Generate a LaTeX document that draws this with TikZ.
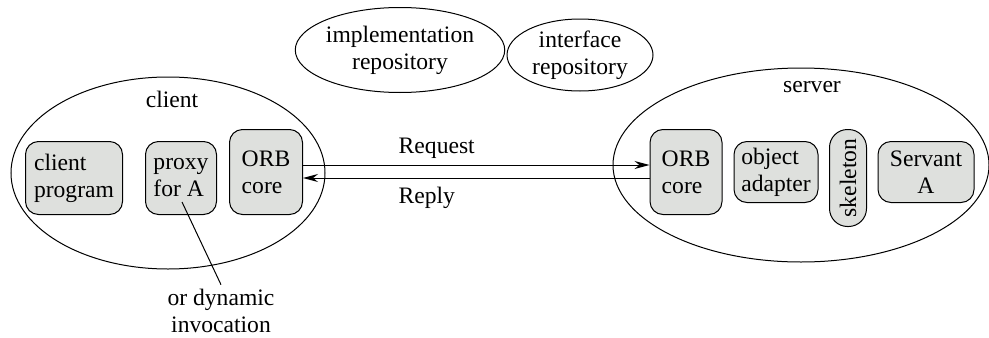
\documentclass[tikz,border=0pt]{standalone}
\usepackage{fontspec}
\setmainfont{Liberation Serif}
\usepackage{xcolor}
\usepackage{tikz}
\usetikzlibrary{arrows.meta, shapes.geometric}

\definecolor{boxgray}{RGB}{222,224,221}

\begin{document}
\begin{tikzpicture}[>={Stealth[length=7.5pt, width=4pt]}, x=0.5pt, y=-0.5pt,
    line width=0.5pt,
    every node/.style={font=\rmfamily\fontsize{11.8}{13.5}\selectfont},
    part/.style={draw, fill=boxgray, rounded corners=6.5pt, inner sep=1.5pt, align=left},
    proc/.style={draw, ellipse, inner sep=0pt},
    repo/.style={draw, ellipse, inner sep=0pt, align=center}]

\useasboundingbox (0,0) rectangle (989,337);

% ============================================================
% repositories
% ============================================================

\node[repo, minimum width=96.5pt, minimum height=42.5pt] (impl) at (400,50)
    {implementation\\repository};
\node[repo, minimum width=73pt, minimum height=36pt] (iface) at (580,55)
    {interface\\repository};

% ============================================================
% client side
% ============================================================

\node[proc, minimum width=157pt, minimum height=96pt] (client) at (168,173) {};
\node (clientlbl) at (172,99) {client};

\node[part, minimum width=48.5pt, minimum height=36.5pt] (cprog) at (74,178)
    {client\\program};
\node[part, minimum width=35.5pt, minimum height=36.5pt] (proxy) at (181,178)
    {proxy\\for A};
\node[part, minimum width=36.5pt, minimum height=42.5pt] (orbc) at (266,172)
    {ORB\\core};

\coordinate (pa) at (182,202);
\node[align=center, inner sep=0pt] (dyn) at (221,311) {or dynamic\\invocation};
\draw (pa) -- ([yshift=2pt]dyn.north);

% ============================================================
% server side
% ============================================================

\node[proc, minimum width=188pt, minimum height=97pt] (server) at (801,165) {};
\node (serverlbl) at (812,87) {server};

\node[part, minimum width=36pt, minimum height=42.5pt] (orbs) at (686,172)
    {ORB\\core};
\node[part, minimum width=42pt, minimum height=30.5pt] (adapter) at (776,172)
    {object\\adapter};
\node[part, rounded corners=9pt, rotate=90, minimum width=48.5pt, minimum height=18.5pt]
    (skel) at (848,178) {skeleton};
\node[part, align=center, minimum width=48pt, minimum height=30.5pt] (servant) at (926,172)
    {Servant\\A};

% ============================================================
% request / reply
% ============================================================

\draw[->] ([yshift=3.5pt]orbc.east) -- ([yshift=3.5pt]orbs.west)
    node[midway, above=-0.5pt, xshift=-19.75pt] (req) {Request};
\draw[->] ([yshift=-3pt]orbs.west) -- ([yshift=-3pt]orbc.east)
    node[midway, below=1pt, xshift=-24.75pt] (rep) {Reply};

\end{tikzpicture}
\end{document}
